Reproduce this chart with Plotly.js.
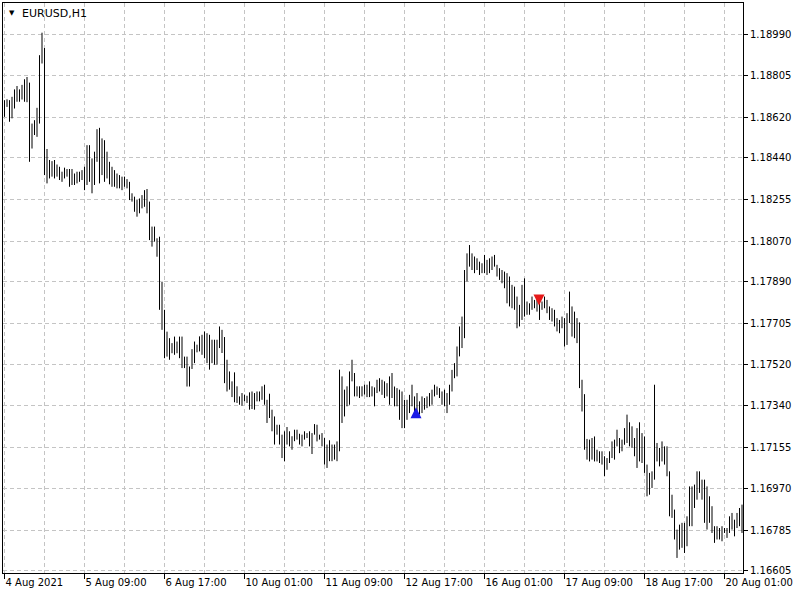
<!DOCTYPE html>
<html>
<head>
<meta charset="utf-8">
<script src="https://cdn.plot.ly/plotly-3.0.1.min.js"></script>
<style>html,body{margin:0;padding:0;background:#fff;}#chart{width:800px;height:600px;}</style>
</head>
<body>
<div id="chart"></div>
<script>
// Hourly bars EURUSD,H1 (bar index 0..295)
const high = [
1.18697,1.18701,1.18697,1.18712,1.18745,1.18760,1.18745,1.18765,1.18790,1.18800,
1.18775,1.18593,1.18608,1.18663,1.18897,1.18997,1.18929,1.18480,1.18431,1.18426,
1.18431,1.18411,1.18401,1.18379,1.18397,1.18391,1.18391,1.18391,1.18371,1.18379,
1.18379,1.18386,1.18401,1.18497,1.18497,1.18438,1.18468,1.18568,1.18574,1.18527,
1.18519,1.18468,1.18423,1.18401,1.18386,1.18371,1.18364,1.18357,1.18357,1.18346,
1.18334,1.18283,1.18268,1.18253,1.18260,1.18275,1.18297,1.18302,1.18246,1.18135,
1.18135,1.18083,1.18090,1.17890,1.17765,1.17668,1.17639,1.17617,1.17646,1.17624,
1.17646,1.17646,1.17557,1.17557,1.17513,1.17590,1.17624,1.17610,1.17647,1.17654,
1.17669,1.17661,1.17654,1.17632,1.17632,1.17632,1.17691,1.17676,1.17644,1.17543,
1.17491,1.17447,1.17487,1.17425,1.17380,1.17395,1.17388,1.17383,1.17398,1.17402,
1.17395,1.17402,1.17402,1.17425,1.17432,1.17365,1.17392,1.17321,1.17291,1.17254,
1.17254,1.17210,1.17225,1.17244,1.17225,1.17203,1.17232,1.17232,1.17214,1.17210,
1.17225,1.17217,1.17225,1.17217,1.17257,1.17254,1.17210,1.17217,1.17195,1.17166,
1.17185,1.17166,1.17166,1.17180,1.17499,1.17469,1.17410,1.17425,1.17491,1.17543,
1.17484,1.17425,1.17425,1.17425,1.17432,1.17432,1.17447,1.17425,1.17420,1.17454,
1.17461,1.17454,1.17447,1.17439,1.17469,1.17484,1.17424,1.17417,1.17410,1.17402,
1.17365,1.17365,1.17387,1.17432,1.17380,1.17395,1.17358,1.17380,1.17373,1.17380,
1.17395,1.17410,1.17432,1.17424,1.17417,1.17402,1.17410,1.17395,1.17432,1.17498,
1.17528,1.17602,1.17691,1.17735,1.17942,1.18016,1.18053,1.18016,1.18002,1.17994,
1.17979,1.17972,1.18009,1.17987,1.17994,1.18002,1.18009,1.17965,1.17950,1.17942,
1.17935,1.17928,1.17913,1.17876,1.17868,1.17824,1.17787,1.17876,1.17905,1.17802,
1.17794,1.17824,1.17809,1.17817,1.17794,1.17802,1.17824,1.17809,1.17780,1.17772,
1.17765,1.17728,1.17720,1.17735,1.17728,1.17750,1.17846,1.17780,1.17757,1.17728,
1.17709,1.17454,1.17390,1.17191,1.17188,1.17195,1.17202,1.17143,1.17136,1.17136,
1.17114,1.17106,1.17136,1.17180,1.17188,1.17232,1.17195,1.17188,1.17239,1.17299,
1.17265,1.17247,1.17195,1.17239,1.17265,1.17217,1.17202,1.17077,1.17040,1.17047,
1.17432,1.17173,1.17151,1.17180,1.17158,1.17158,1.17047,1.16943,1.16877,1.16788,
1.16810,1.16818,1.16818,1.16847,1.16980,1.16980,1.16988,1.17047,1.17047,1.17010,
1.17010,1.16980,1.16936,1.16892,1.16803,1.16803,1.16795,1.16803,1.16795,1.16795,
1.16847,1.16862,1.16832,1.16862,1.16884,1.16899
];
const low = [
1.18623,1.18667,1.18601,1.18616,1.18660,1.18690,1.18690,1.18700,1.18690,1.18688,
1.18423,1.18482,1.18542,1.18534,1.18593,1.18860,1.18364,1.18327,1.18349,1.18357,
1.18349,1.18357,1.18342,1.18334,1.18349,1.18357,1.18312,1.18320,1.18320,1.18327,
1.18334,1.18342,1.18297,1.18320,1.18334,1.18283,1.18320,1.18423,1.18327,1.18364,
1.18334,1.18349,1.18323,1.18312,1.18312,1.18305,1.18305,1.18297,1.18312,1.18305,
1.18253,1.18246,1.18201,1.18179,1.18194,1.18216,1.18223,1.18194,1.18075,1.18046,
1.18068,1.18001,1.17765,1.17676,1.17550,1.17557,1.17543,1.17572,1.17565,1.17572,
1.17550,1.17506,1.17506,1.17424,1.17424,1.17502,1.17528,1.17576,1.17580,1.17565,
1.17550,1.17528,1.17499,1.17528,1.17521,1.17521,1.17595,1.17573,1.17439,1.17402,
1.17410,1.17377,1.17354,1.17351,1.17343,1.17339,1.17358,1.17351,1.17321,1.17324,
1.17321,1.17358,1.17358,1.17365,1.17343,1.17262,1.17284,1.17225,1.17166,1.17210,
1.17166,1.17106,1.17092,1.17166,1.17158,1.17143,1.17181,1.17188,1.17166,1.17158,
1.17188,1.17195,1.17158,1.17124,1.17210,1.17180,1.17188,1.17158,1.17077,1.17062,
1.17092,1.17092,1.17099,1.17092,1.17136,1.17262,1.17291,1.17336,1.17343,1.17447,
1.17380,1.17380,1.17373,1.17380,1.17388,1.17377,1.17377,1.17380,1.17336,1.17395,
1.17402,1.17387,1.17373,1.17380,1.17343,1.17373,1.17336,1.17336,1.17276,1.17239,
1.17239,1.17276,1.17306,1.17336,1.17291,1.17313,1.17299,1.17306,1.17321,1.17328,
1.17336,1.17343,1.17380,1.17387,1.17373,1.17343,1.17336,1.17306,1.17343,1.17402,
1.17461,1.17469,1.17558,1.17595,1.17639,1.17891,1.17957,1.17942,1.17928,1.17942,
1.17920,1.17928,1.17928,1.17920,1.17928,1.17942,1.17957,1.17913,1.17898,1.17883,
1.17861,1.17794,1.17780,1.17772,1.17765,1.17683,1.17691,1.17720,1.17735,1.17743,
1.17743,1.17765,1.17772,1.17757,1.17720,1.17765,1.17772,1.17750,1.17720,1.17713,
1.17691,1.17669,1.17661,1.17683,1.17602,1.17609,1.17706,1.17646,1.17639,1.17617,
1.17417,1.17313,1.17143,1.17099,1.17091,1.17099,1.17091,1.17091,1.17084,1.17077,
1.17025,1.17054,1.17084,1.17106,1.17099,1.17158,1.17128,1.17136,1.17165,1.17173,
1.17158,1.17151,1.17114,1.17062,1.17091,1.17084,1.17040,1.16936,1.16943,1.16973,
1.17010,1.17091,1.17069,1.17091,1.17077,1.17025,1.16847,1.16840,1.16744,1.16662,
1.16699,1.16707,1.16684,1.16714,1.16803,1.16803,1.16884,1.16921,1.16951,1.16921,
1.16818,1.16788,1.16818,1.16773,1.16729,1.16744,1.16744,1.16736,1.16773,1.16751,
1.16773,1.16788,1.16758,1.16795,1.16803,1.16773
];
const timeTickIdx = [0,32,64,96,128,160,192,224,256,288];
const timeTickLabels = ['4 Aug 2021','5 Aug 09:00','6 Aug 17:00','10 Aug 01:00','11 Aug 09:00','12 Aug 17:00','16 Aug 01:00','17 Aug 09:00','18 Aug 17:00','20 Aug 01:00'];
const priceTickLabels = ['1.18990','1.18805','1.18620','1.18440','1.18255','1.18070','1.17890','1.17705','1.17520','1.17340','1.17155','1.16970','1.16785','1.16605'];
const buyIdx = [164.6], buyPrice = [1.17332];
const sellIdx = [213.8], sellPrice = [1.17784];

// build high-low segments
const bx = [], by = [];
for (let i = 0; i < high.length; i++) {
  bx.push(i, i, null);
  by.push(low[i], high[i], null);
}
const gridCol = '#c4c4c4';
const font = {family: 'DejaVu Sans', size: 10, color: '#000'};
const traces = [
  {type: 'scatter', mode: 'lines', x: bx, y: by, connectgaps: false,
   line: {color: '#000', width: 1}, hoverinfo: 'skip'},
  {type: 'scatter', mode: 'markers', x: buyIdx, y: buyPrice,
   marker: {symbol: 'arrow-up', size: 11, color: '#1a1ae6', line: {width: 0}}},
  {type: 'scatter', mode: 'markers', x: sellIdx, y: sellPrice,
   marker: {symbol: 'arrow-down', size: 11, color: '#e61a1a', line: {width: 0}}}
];
const layout = {
  width: 800, height: 600,
  margin: {l: 3, r: 57, t: 3, b: 27, pad: 0},
  paper_bgcolor: '#fff', plot_bgcolor: '#fff',
  showlegend: false,
  title: {text: 'EURUSD,H1', xref: 'container', yref: 'container', x: 22/800, xanchor: 'left',
          y: 1 - 13/600, yanchor: 'middle', font: {family: 'DejaVu Sans', size: 11, color: '#000'}},
  xaxis: {
    range: [-0.6, 295.4], tickmode: 'array', tickvals: timeTickIdx, ticktext: timeTickLabels,
    ticks: 'outside', ticklen: 5, tickwidth: 1, tickcolor: '#000',
    ticklabelposition: 'outside right', tickfont: font,
    showgrid: true, gridcolor: gridCol, griddash: '4px,3px', gridwidth: 1,
    minor: {tick0: 0, dtick: 16, showgrid: true, gridcolor: gridCol, griddash: '4px,3px', gridwidth: 1, ticks: ''},
    showline: true, linecolor: '#000', linewidth: 1, mirror: true, zeroline: false, fixedrange: true
  },
  yaxis: {
    side: 'right', range: [1.16595, 1.19129], tickmode: 'array',
    tickvals: priceTickLabels.map(Number), ticktext: priceTickLabels,
    ticks: 'outside', ticklen: 4, tickwidth: 1, tickcolor: '#000', tickfont: font,
    showgrid: true, gridcolor: gridCol, griddash: '4px,3px', gridwidth: 1,
    showline: true, linecolor: '#000', linewidth: 1, mirror: true, zeroline: false, fixedrange: true
  },
  annotations: [{text: '▼', xref: 'paper', yref: 'paper', x: (12 - 3) / 740, y: 1 - (13 - 3) / 570,
    xanchor: 'center', yanchor: 'middle', showarrow: false, font: {family: 'DejaVu Sans', size: 7, color: '#000'}}]
};
Plotly.newPlot('chart', traces, layout, {staticPlot: true, displayModeBar: false});
</script>
</body>
</html>
